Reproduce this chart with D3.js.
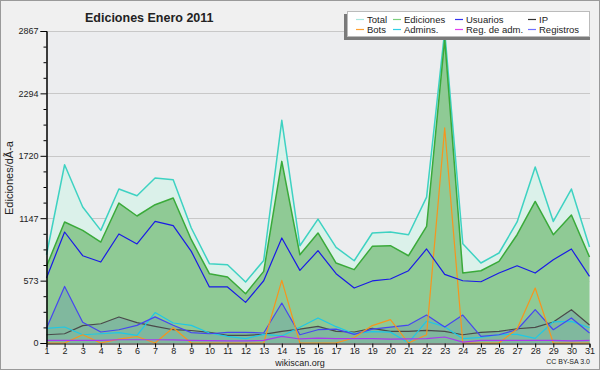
<!DOCTYPE html>
<html lang="es">
<head>
<meta charset="utf-8">
<title>Ediciones Enero 2011</title>
<script src="https://cdn.jsdelivr.net/npm/d3@7/dist/d3.min.js"></script>
<style>
  body { margin: 0; background: #f0f0f0; }
  svg { display: block; }
  text { font-family: "Liberation Sans", Arial, sans-serif; fill: #222; }
</style>
</head>
<body>
<script>
// dias del mes
var days = d3.range(1, 32);

// series (ediciones por dia)
var total     = [811,1638,1250,1035,1415,1353,1516,1500,1057,729,719,560,759,2046,894,1139,879,756,1011,1020,995,1341,2867,912,735,827,1112,1617,1117,1415,882];
var ediciones = [704,1112,1035,928,1286,1167,1271,1332,949,637,606,453,658,1669,811,1011,735,674,888,894,802,1071,2790,643,664,750,995,1301,995,1176,790];
var usuarios  = [597,1020,802,744,1002,910,1117,1078,842,515,515,373,572,965,667,848,637,505,570,588,664,864,630,572,563,643,710,643,765,864,612];
var ip        = [76,85,160,177,239,187,153,122,115,98,70,70,79,107,128,153,107,101,135,107,107,116,107,76,98,107,131,144,193,306,165];
var bots      = [0,0,76,0,35,60,0,140,0,0,0,0,0,576,0,0,0,50,160,215,0,76,1976,0,0,0,128,505,0,0,0];
var admins    = [135,147,76,85,95,70,280,184,162,92,61,40,79,65,145,230,150,85,105,100,3,200,150,40,52,76,80,43,195,199,140];
var regAdm    = [24,24,24,24,30,30,30,28,24,22,20,20,24,61,37,44,40,40,40,35,38,40,55,8,24,24,24,24,24,20,24];
var registros = [135,520,190,101,122,162,240,163,95,85,98,98,92,367,76,122,128,79,128,145,165,257,147,257,61,76,122,306,122,230,92];

var yTicks = [0, 573, 1147, 1720, 2294, 2867];
var legendNames = ["Total", "Ediciones", "Usuarios", "IP", "Bots", "Admins.", "Reg. de adm.", "Registros"];
var legendColors = ["#a8e6de", "#7ccf7c", "#3434f0", "#333333", "#ffa030", "#30cfe6", "#e040f0", "#7070ff"];

var W = 600, H = 370;
var svg = d3.select("body").append("svg")
            .attr("width", W)
            .attr("height", H);

// fondo y marco
svg.append("rect").attr("x", 0.5).attr("y", 0.5).attr("width", W - 1).attr("height", H - 1)
   .attr("fill", "#f0f0f0").attr("stroke", "#9a9a9a");

var x = d3.scaleLinear().domain([1, 31]).range([46.5, 589.5]);
var y = d3.scaleLinear().domain([0, 2867]).range([343, 31]);

svg.append("rect").attr("x", 46).attr("y", 31).attr("width", 544).attr("height", 312)
   .attr("fill", "#ecedef");

// lineas de la rejilla
svg.append("g").selectAll("line")
   .data(yTicks.slice(1))
   .enter().append("line")
   .attr("x1", 46).attr("x2", 590)
   .attr("y1", function(d){ return Math.round(y(d)) + 0.5; })
   .attr("y2", function(d){ return Math.round(y(d)) + 0.5; })
   .attr("stroke", "#c8c8c8");

function area(vals){
  return d3.area().x(function(d, i){ return x(days[i]); })
           .y0(y(0)).y1(function(d){ return y(d); })(vals);
}
function line(vals){
  return d3.line().x(function(d, i){ return x(days[i]); })
           .y(function(d){ return y(d); })(vals);
}

// areas
svg.append("path").attr("d", area(total)).attr("fill", "#dbf1ea");
svg.append("path").attr("d", area(ediciones)).attr("fill", "#8fca95");
svg.append("path").attr("d", area(registros)).attr("fill", "#80b89e");
svg.append("path").attr("d", area(ip)).attr("fill", "#80b89e");

// lineas
var lines = [
  [total, "#3ed2c2", 1.5],
  [ediciones, "#3aaa3a", 1.5],
  [ip, "#4a4a4a", 1.2],
  [admins, "#1ec8e6", 1.2],
  [registros, "#4646f0", 1.2],
  [bots, "#f7941d", 1.2],
  [regAdm, "#a838ee", 1.2],
  [usuarios, "#1a1ae6", 1.2]
];
lines.forEach(function(l){
  svg.append("path").attr("d", line(l[0]))
     .attr("fill", "none").attr("stroke", l[1]).attr("stroke-width", l[2])
     .attr("stroke-linejoin", "round");
});

// eje y
var yMinor = d3.range(0, 2867, 2867 / 20).filter(function(v, i){ return i % 4 != 0; });
var gMinor = svg.append("g").attr("transform", "translate(46.5,0)")
   .call(d3.axisLeft(y).tickValues(yMinor).tickSize(3).tickFormat(""));
var gy = svg.append("g").attr("transform", "translate(46.5,0)")
   .call(d3.axisLeft(y).tickValues(yTicks).tickSize(6).tickPadding(2).tickFormat(d3.format("d")));
gy.selectAll("text").style("font-size", "9px").attr("fill", "#222");

// eje x
var gx = svg.append("g").attr("transform", "translate(0,343.5)")
   .call(d3.axisBottom(x).tickValues(days).tickSize(4).tickPadding(0).tickFormat(d3.format("d")));
gx.selectAll("text").style("font-size", "9px").attr("fill", "#222");

[gy, gx, gMinor].forEach(function(g){
  g.selectAll("path,line").attr("stroke", "#000");
});

// titulos
svg.append("text").attr("x", 85).attr("y", 22)
   .style("font-size", "12.5px").style("font-weight", "bold")
   .text("Ediciones  Enero 2011");

svg.append("text").attr("transform", "translate(13,178) rotate(-90)")
   .attr("text-anchor", "middle").style("font-size", "11px")
   .text("Ediciones/dÃ-a");

svg.append("text").attr("x", 300).attr("y", 366).attr("text-anchor", "middle")
   .style("font-size", "9px").text("wikiscan.org");

svg.append("text").attr("x", 590).attr("y", 364).attr("text-anchor", "end")
   .style("font-size", "7px").text("CC BY-SA 3.0");

// leyenda
var leg = svg.append("g");
leg.append("rect").attr("x", 344).attr("y", 14).attr("width", 246).attr("height", 26).attr("fill", "#7a7a7a");
leg.append("rect").attr("x", 347.5).attr("y", 11.5).attr("width", 242).attr("height", 25)
   .attr("fill", "#fff").attr("stroke", "#bbb");
var colX = [356, 393, 455, 528];
var rowY = [19, 29];
legendNames.forEach(function(n, i){
  var cx = colX[i % 4], cy = rowY[Math.floor(i / 4)];
  leg.append("line").attr("x1", cx).attr("x2", cx + 8).attr("y1", cy + 0.5).attr("y2", cy + 0.5)
     .attr("stroke", legendColors[i]).attr("stroke-width", 1.2);
  leg.append("text").attr("x", cx + 11).attr("y", cy + 3.5)
     .style("font-size", "9.5px").text(n);
});
</script>
</body>
</html>
